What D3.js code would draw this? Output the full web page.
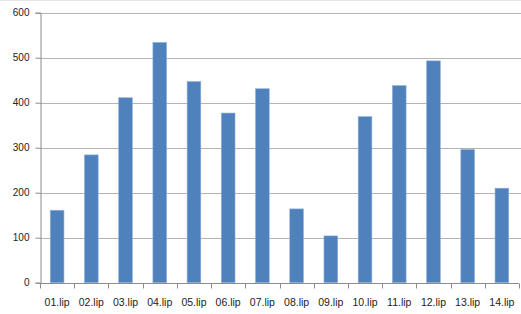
<!DOCTYPE html>
<html><head><meta charset="utf-8">
<script src="https://cdn.jsdelivr.net/npm/d3@7"></script>
<style>body{margin:0;background:#fff}svg{display:block}</style>
</head><body>
<script>
const categories = ["01.lip","02.lip","03.lip","04.lip","05.lip","06.lip","07.lip","08.lip","09.lip","10.lip","11.lip","12.lip","13.lip","14.lip"];
const values = [161,284,411,534,447,377,431,164,104,369,438,493,296,210];
const yTicks = [0,100,200,300,400,500,600];

const W = 521, H = 314;
const m = {left:40, right:2, top:12.7, bottom:31.3};
const svg = d3.select("body").append("svg").attr("width",W).attr("height",H);
svg.append("line").attr("x1",0).attr("x2",W).attr("y1",0.5).attr("y2",0.5).attr("stroke","#e6e6e6");

const x = d3.scaleBand().domain(categories).range([m.left, W-m.right]).paddingInner(0.6).paddingOuter(0.3);
const y = d3.scaleLinear().domain([0,600]).range([H-m.bottom, m.top]);

// gridlines
svg.append("g").selectAll("line").data(yTicks.filter(d=>d>0)).join("line")
  .attr("x1",m.left).attr("x2",W).attr("y1",d=>Math.round(y(d))+0.5).attr("y2",d=>Math.round(y(d))+0.5)
  .attr("stroke","#b3b3b3").attr("stroke-width",1);

// bars
svg.append("g").selectAll("rect").data(values).join("rect")
  .attr("x",(d,i)=>x(categories[i])).attr("width",x.bandwidth())
  .attr("y",d=>y(d)).attr("height",d=>y(0)-y(d))
  .attr("fill","#4f81bd").attr("stroke","#8fb0da").attr("stroke-width",0.6);

// y axis
const yAxis = d3.axisLeft(y).tickValues(yTicks).tickSize(5).tickPadding(6);
const gy = svg.append("g").attr("transform",`translate(${m.left+0.5},0)`).call(yAxis);
gy.selectAll("path,line").attr("stroke","#8c8c8c");
gy.selectAll("text").attr("font-family","Liberation Sans, Arial, sans-serif").attr("font-size",10).attr("fill","#222");

// x axis with ticks at band boundaries
const step = x.step();
const gx = svg.append("g").attr("transform",`translate(0,${Math.round(y(0))+0.5})`);
gx.append("line").attr("x1",m.left).attr("x2",W-m.right).attr("stroke","#8c8c8c");
const bounds = d3.range(categories.length+1).map(i=> x(categories[0]) - x.paddingOuter()*0 - (x.bandwidth()/2) + 0);
gx.selectAll("line.t").data(d3.range(categories.length+1)).join("line").attr("class","t")
  .attr("x1",i=>Math.round(m.left + i*(W-m.right-m.left)/categories.length)+0.5)
  .attr("x2",i=>Math.round(m.left + i*(W-m.right-m.left)/categories.length)+0.5)
  .attr("y1",0).attr("y2",5).attr("stroke","#8c8c8c");
gx.selectAll("text").data(categories).join("text")
  .attr("x",d=>x(d)+x.bandwidth()/2).attr("y",22)
  .attr("text-anchor","middle")
  .attr("font-family","Liberation Sans, Arial, sans-serif").attr("font-size",10.5).attr("fill","#222")
  .text(d=>d);
</script>
</body></html>
